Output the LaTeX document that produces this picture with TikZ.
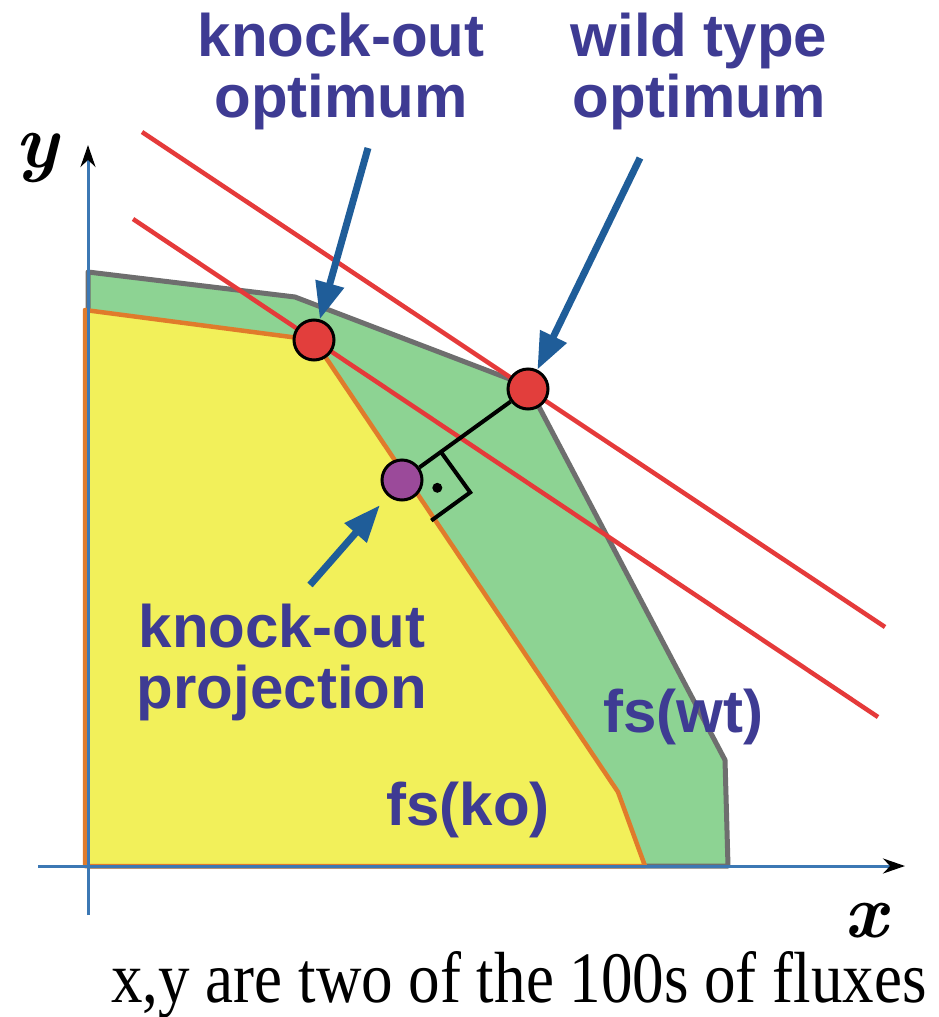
\documentclass[tikz,border=0pt]{standalone}
\usepackage{fontspec}
\newfontfamily\lblfont{Liberation Sans}
\newfontfamily\capfont{Liberation Serif}
\usetikzlibrary{arrows.meta}
\definecolor{wtgreen}{HTML}{8DD393}
\definecolor{koyellow}{HTML}{F2F05A}
\definecolor{wtgray}{HTML}{6E6E6E}
\definecolor{koorange}{HTML}{E07B2B}
\definecolor{axisblue}{HTML}{3C78B4}
\definecolor{redline}{HTML}{E53A3A}
\definecolor{dotred}{HTML}{E23E3C}
\definecolor{projpurple}{HTML}{9B4A9A}
\definecolor{arrowblue}{HTML}{1F5D99}
\definecolor{lblc}{HTML}{3E3B93}
\tikzset{
  lbl/.style={text=lblc, font=\lblfont\bfseries\fontsize{60}{61}\selectfont, inner sep=0pt, align=center},
  optdot/.style={circle, draw=black, line width=3pt, minimum size=40pt, inner sep=0pt},
  bluearrow/.style={arrowblue, line width=7pt, -{Triangle[length=37pt,width=28pt]}},
  axisline/.style={axisblue, line width=3pt, -{Stealth[color=black,length=22pt,width=15pt]}},
  objline/.style={redline, line width=4.5pt},
  axlbl/.style={font=\bfseries\itshape\fontsize{76}{76}\selectfont, inner sep=0pt}
}
\begin{document}
\begin{tikzpicture}[x=1pt,y=-1pt]
\useasboundingbox (0,0) rectangle (939,1017);
\fill[white] (0,0) rectangle (939,1017);
% feasible sets
\filldraw[fill=wtgreen, draw=wtgray, line width=5pt, line join=round]
  (88,272) -- (295,297) -- (528,386) -- (725,760) -- (728,866) -- (88,866) -- cycle;
\filldraw[fill=koyellow, draw=koorange, line width=4.5pt, line join=round]
  (85,310) -- (314,340) -- (618,792) -- (645,866) -- (85,866) -- cycle;
% axes
\coordinate (ybot) at (88,915);
\coordinate (ytop) at (88,145);
\coordinate (xleft) at (38,866);
\coordinate (xright) at (905,866);
\draw[axisline] (ybot) -- (ytop);
\draw[axisline] (xleft) -- (xright);
% objective lines
\coordinate (u1) at (142,132);
\coordinate (u2) at (885,627);
\coordinate (l1) at (133,219);
\coordinate (l2) at (878,717);
\draw[objline] (u1) -- (u2);
\draw[objline] (l1) -- (l2);
% points
\node[optdot, fill=dotred] (ko) at (314,340) {};
\node[optdot, fill=dotred] (wt) at (528,389) {};
\node[optdot, fill=projpurple] (proj) at (402,480) {};
\draw[black, line width=4pt] (wt) -- (proj);
% right-angle mark
\coordinate (ra1) at (440.9,451.9);
\coordinate (ra2) at (470.2,492.4);
\coordinate (ra3) at (431.3,520.6);
\draw[black, line width=4pt, line join=miter] (ra1) -- (ra2) -- (ra3);
\fill[black] (437.3,487.8) circle (5pt);
% labels
\node[lbl, anchor=north] (kolbl) at (341,13) {knock-out\\optimum};
\node[lbl, anchor=north] (wtlbl) at (699,13) {wild type\\optimum};
\node[lbl, anchor=north] (projlbl) at (282,604) {knock-out\\projection};
\node[lbl, anchor=base] (fsko) at (468,825) {fs(ko)};
\node[lbl, anchor=base] (fswt) at (683,732) {fs(wt)};
\node[axlbl] (ylbl) at (37,158) {y};
\node[axlbl] (xlbl) at (866,921) {x};
\node[font=\capfont\fontsize{63}{63}\selectfont, inner sep=0pt, anchor=base] (cap) at (519,1002) {\scalebox{1}[1.15]{x,y are two of the 100s of fluxes}};
% arrows
\coordinate (kotail) at (368,148);
\coordinate (wttail) at (640,158);
\coordinate (projtail) at (310,585);
\draw[bluearrow] (kotail) -- (ko);
\draw[bluearrow] (wttail) -- (wt);
\draw[bluearrow, shorten >=12pt] (projtail) -- (proj);
\end{tikzpicture}
\end{document}
